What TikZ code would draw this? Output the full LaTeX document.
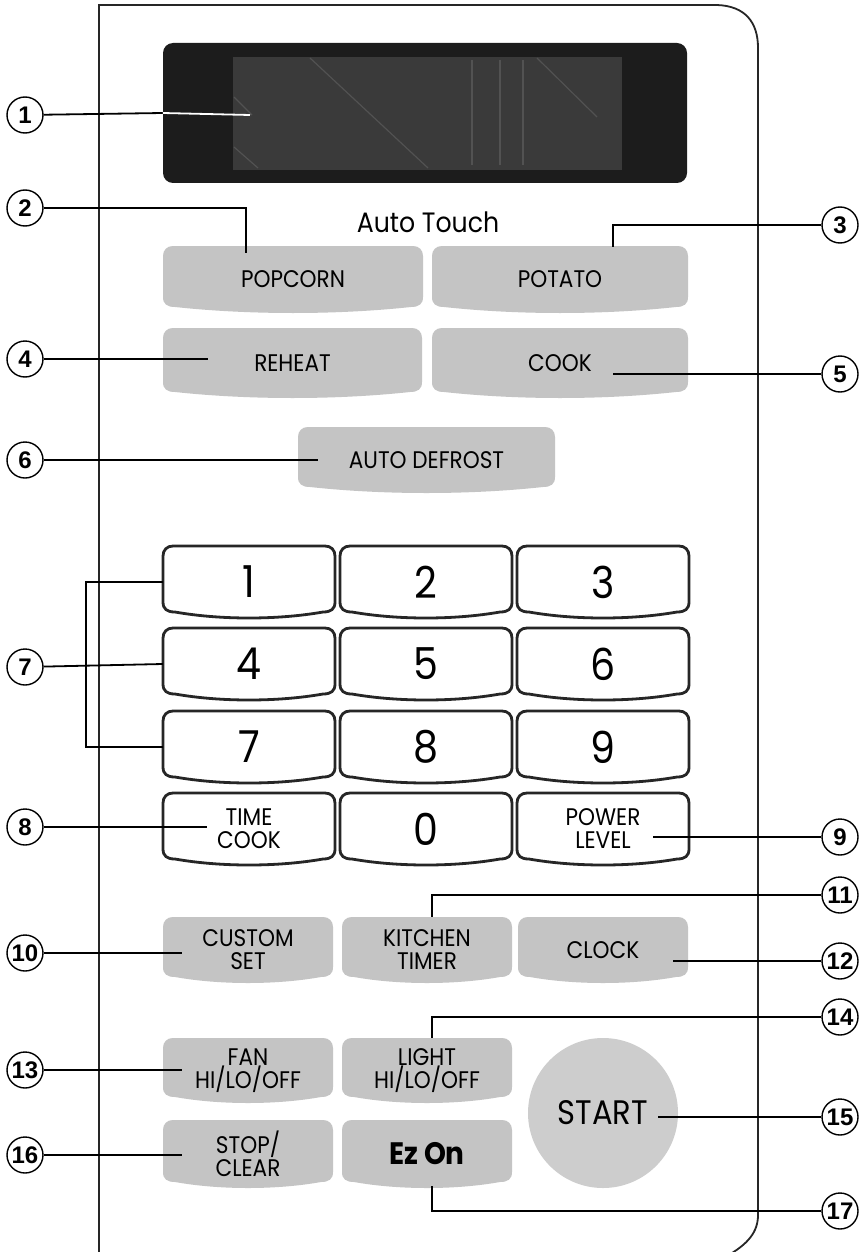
\documentclass[tikz,border=0pt]{standalone}
\usepackage{fontspec}
\setmainfont{Poppins}[FakeStretch=0.9]
\newfontfamily\tagfont{Liberation Sans}
\definecolor{padgray}{RGB}{196,196,196}
\definecolor{lcdback}{RGB}{28,28,28}
\definecolor{lcdface}{RGB}{58,58,58}
\tikzset{panel/.style={draw=black!85,line width=1.8pt},
  padbody/.style={fill=padgray},
  keybody/.style={fill=white,draw=black!85,line width=2.8pt},
  padtext/.style={font=\fontsize{24}{23}\selectfont,align=center},
  keytext/.style={font=\fontsize{44}{44}\selectfont},
  numtag/.style={circle,draw,line width=1.4pt,minimum size=36pt,inner sep=0pt,font=\tagfont\bfseries\fontsize{24}{24}\selectfont},
  leader/.style={line width=1.8pt},
  lcdseg/.style={draw=black!68,line width=1.2pt}}
% body of a soft key: rounded top, sagging bottom
\newcommand{\padshape}[5]{%
  \path[#1] (#2,#3+10) .. controls (#2,#3+4) and (#2+4,#3) .. (#2+10,#3)
    -- (#4-10,#3) .. controls (#4-4,#3) and (#4,#3+4) .. (#4,#3+10)
    -- (#4,#5-16) .. controls (#4,#5-9) and (#4-4,#5-6) .. (#4-12,#5-6)
    .. controls ({#4-(#4-#2)/3},#5+2) and ({#2+(#4-#2)/3},#5+2) .. (#2+12,#5-6)
    .. controls (#2+4,#5-6) and (#2,#5-9) .. (#2,#5-16) -- cycle;}
\newcommand{\pad}[8]{%
  \padshape{#1}{#4}{#5}{#6}{#7}
  \node[#2,inner sep=0pt,minimum width={#6-#4},minimum height={#7-#5}] (#3) at ({(#4+#6)/2},{(#5+#7)/2}) {#8};}

\begin{document}
\begin{tikzpicture}[x=1pt,y=-1pt]
\path[use as bounding box,fill=white] (0,0) rectangle (860,1252);
\draw[panel] (99,1260) -- (99,5) -- (717,5) .. controls (745,6) and (758,22) .. (758,48)
  -- (758,1215) .. controls (758,1232) and (748,1244) .. (727,1256);

\node[fill=lcdback,rounded corners=10pt,minimum width=524pt,minimum height=140pt,inner sep=0pt] (disp) at (425,113) {};
\node[fill=lcdface,minimum width=389pt,minimum height=113pt,inner sep=0pt] (lcd) at (427.5,113.5) {};
\draw[lcdseg] (310,58) -- (428,168);
\draw[lcdseg] (234,97) -- (252,115);
\draw[lcdseg] (234,147) -- (258,168);
\draw[lcdseg] (537,58) -- (597,117);
\draw[lcdseg] (472,60) -- (472,165);
\draw[lcdseg] (500,60) -- (500,165);
\draw[lcdseg] (523,60) -- (523,165);

\node[font=\fontsize{28}{28}\selectfont] (auto) at (428,222) {Auto Touch};
\pad{padbody}{padtext}{pop}{163}{246}{423}{313}{POPCORN}
\pad{padbody}{padtext}{pot}{432}{246}{688}{313}{POTATO}
\pad{padbody}{padtext}{reh}{163}{328}{422}{398}{REHEAT}
\pad{padbody}{padtext}{cook}{432}{328}{688}{398}{COOK}
\pad{padbody}{padtext}{def}{298}{427}{555}{493}{AUTO DEFROST}

\pad{keybody}{keytext}{k1}{163}{546}{335}{618}{1}
\pad{keybody}{keytext}{k2}{340}{546}{512}{618}{2}
\pad{keybody}{keytext}{k3}{517}{546}{689}{618}{3}
\pad{keybody}{keytext}{k4}{163}{628}{335}{700}{4}
\pad{keybody}{keytext}{k5}{340}{628}{512}{700}{5}
\pad{keybody}{keytext}{k6}{517}{628}{689}{700}{6}
\pad{keybody}{keytext}{k7}{163}{711}{335}{783}{7}
\pad{keybody}{keytext}{k8}{340}{711}{512}{783}{8}
\pad{keybody}{keytext}{k9}{517}{711}{689}{783}{9}
\pad{keybody}{padtext}{tcook}{163}{793}{335}{865}{TIME\\COOK}
\pad{keybody}{keytext}{k0}{340}{793}{512}{865}{0}
\pad{keybody}{padtext}{power}{517}{793}{689}{865}{POWER\\LEVEL}

\pad{padbody}{padtext}{cust}{163}{917}{333}{983}{CUSTOM\\SET}
\pad{padbody}{padtext}{ktim}{342}{917}{512}{983}{KITCHEN\\TIMER}
\pad{padbody}{padtext}{clock}{518}{917}{688}{983}{CLOCK}
\pad{padbody}{padtext}{fan}{163}{1038}{333}{1103}{FAN\\HI/LO/OFF}
\pad{padbody}{padtext}{light}{342}{1038}{512}{1103}{LIGHT\\HI/LO/OFF}
\pad{padbody}{padtext}{stop}{163}{1120}{333}{1188}{STOP/\\CLEAR}
\pad{padbody}{padtext}{ezon}{342}{1120}{512}{1188}{\bfseries\fontsize{31}{31}\selectfont Ez On}
\node[circle,fill=padgray!85,minimum size=150pt,inner sep=0pt,font=\fontsize{34}{34}\selectfont] (start) at (603,1113) {START};

\node[numtag] (c1) at (25,115) {1};
\node[numtag] (c2) at (25,208) {2};
\node[numtag] (c3) at (840,225) {3};
\node[numtag] (c4) at (25,359) {4};
\node[numtag] (c5) at (840,374) {5};
\node[numtag] (c6) at (25,460) {6};
\node[numtag] (c7) at (25,667) {7};
\node[numtag] (c8) at (25,827) {8};
\node[numtag] (c9) at (840,837) {9};
\node[numtag] (c10) at (25,953) {10};
\node[numtag] (c11) at (840,895) {11};
\node[numtag] (c12) at (840,961) {12};
\node[numtag] (c13) at (25,1070) {13};
\node[numtag] (c14) at (840,1017) {14};
\node[numtag] (c15) at (840,1117) {15};
\node[numtag] (c16) at (25,1155) {16};
\node[numtag] (c17) at (840,1211) {17};

\coordinate (t1) at (250,115);
\coordinate (t2) at (246,253);
\coordinate (t3) at (613,247);
\coordinate (t4) at (208,359);
\coordinate (t5) at (613,374);
\coordinate (t6) at (318,460);
\coordinate (brk) at (86,667);
\coordinate (t8) at (207,827);
\coordinate (t9) at (653,837);
\coordinate (t10) at (182,953);
\coordinate (t11) at (432,917);
\coordinate (t12) at (673,961);
\coordinate (t13) at (182,1070);
\coordinate (t14) at (432,1038);
\coordinate (t15) at (658,1117);
\coordinate (t16) at (182,1155);
\coordinate (t17) at (432,1186);

\draw[leader] (c1) -- (disp.west);
\draw[leader,white] (disp.west) -- (t1);
\draw[leader] (c2) -| (t2);
\draw[leader] (c3) -| (t3);
\draw[leader] (c4) -- (t4);
\draw[leader] (c5) -- (t5);
\draw[leader] (c6) -- (t6);
\draw[leader] (c7) -- (k4.west);
\draw[leader] (k1.west) -| (brk) |- (k7.west);
\draw[leader] (c8) -- (t8);
\draw[leader] (c9) -- (t9);
\draw[leader] (c10) -- (t10);
\draw[leader] (c11) -| (t11);
\draw[leader] (c12) -- (t12);
\draw[leader] (c13) -- (t13);
\draw[leader] (c14) -| (t14);
\draw[leader] (c15) -- (t15);
\draw[leader] (c16) -- (t16);
\draw[leader] (c17) -| (t17);
\end{tikzpicture}
\end{document}
